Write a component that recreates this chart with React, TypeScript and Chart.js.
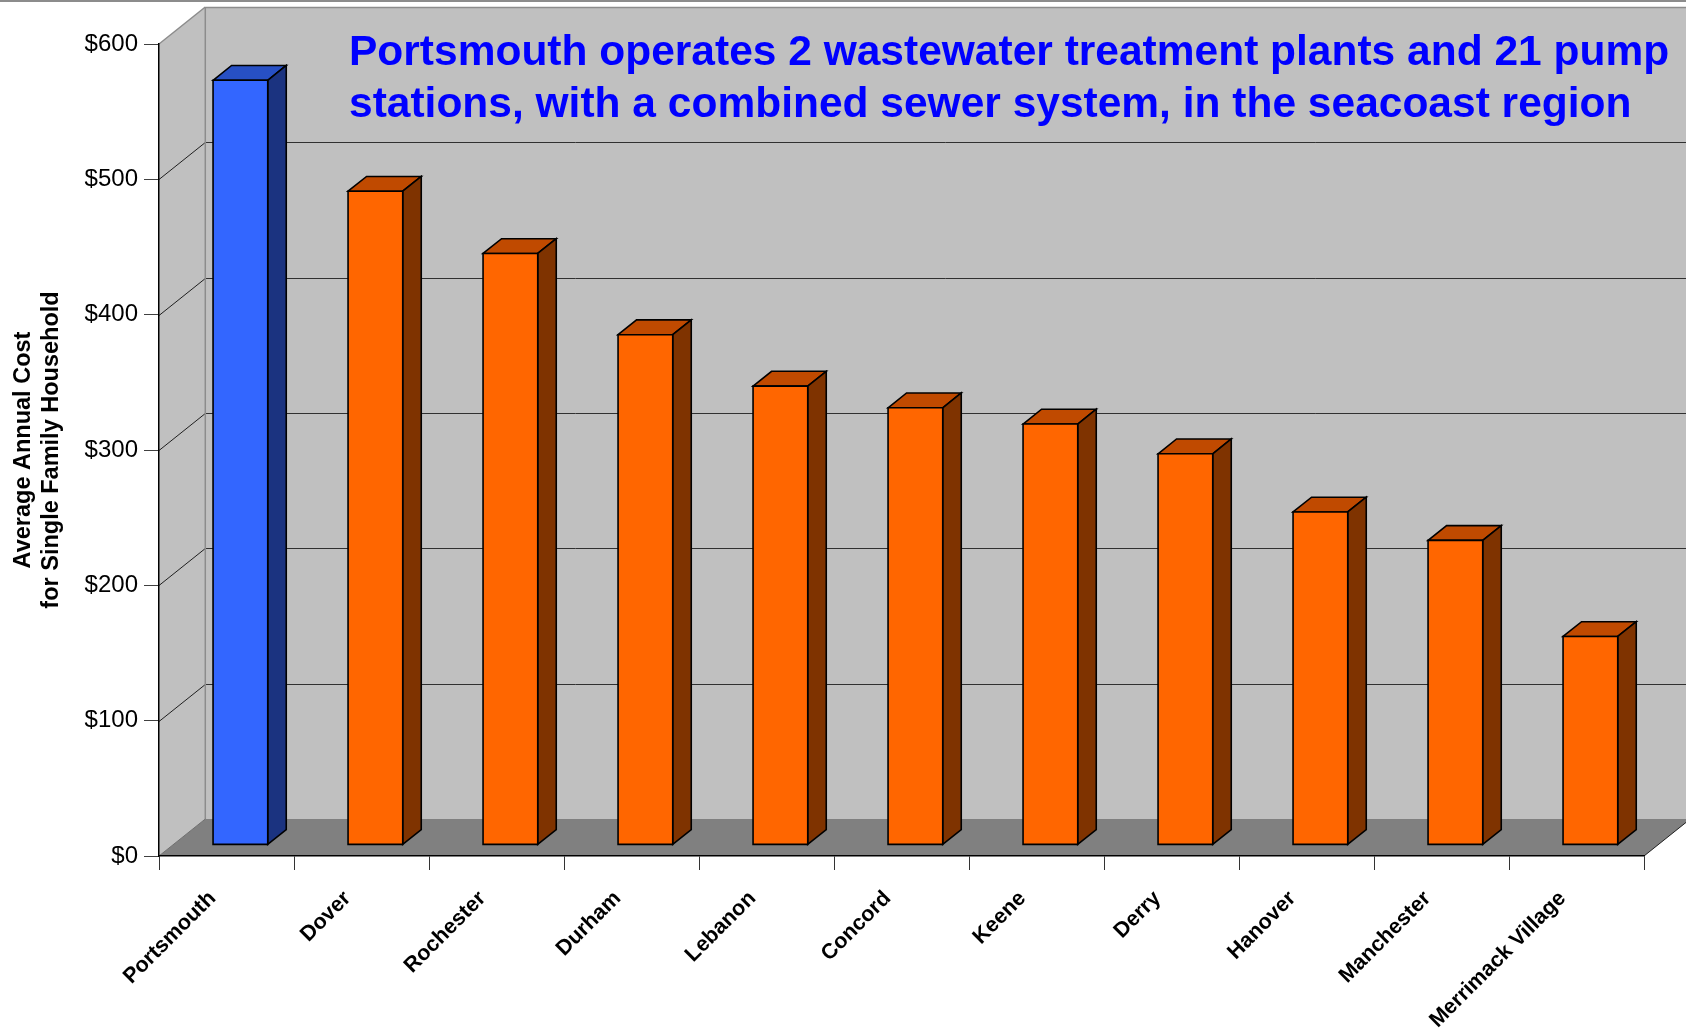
import React, { useEffect, useRef } from 'react';
import { Chart, registerables } from 'chart.js';

Chart.register(...registerables);

// ---- data ----
const categories = [
  'Portsmouth',
  'Dover',
  'Rochester',
  'Durham',
  'Lebanon',
  'Concord',
  'Keene',
  'Derry',
  'Hanover',
  'Manchester',
  'Merrimack Village',
];
const costs = [565, 483, 437, 377, 339, 323, 311, 289, 246, 225, 154];
const yTicks = [0, 100, 200, 300, 400, 500, 600];
const yTitleLines = ['Average Annual Cost', 'for Single Family Household'];
const noteLines = [
  'Portsmouth operates 2 wastewater treatment plants and 21 pump',
  'stations, with a combined sewer system, in the seacoast region',
];
const highlighted = 'Portsmouth';

// ---- styles ----
const FONT = "'Liberation Sans', Arial, Helvetica, sans-serif";
const DEPTH_X = 46.3; // full depth of the 3D box (px)
const DEPTH_Y = 37;
const GAP_FRAC = 0.3; // front gap before the bars
const BAR_FRAC = 0.4; // bar depth
const WALL = '#C0C0C0';
const FLOOR = '#808080';
const BLUE = { front: '#3366FF', top: '#2750C4', side: '#1B3380' };
const ORANGE = { front: '#FF6600', top: '#C04A00', side: '#7F3300' };

function poly(ctx: CanvasRenderingContext2D, pts: number[][], fill: string | null, stroke: string | null, lw = 1) {
  ctx.beginPath();
  ctx.moveTo(pts[0][0], pts[0][1]);
  for (let i = 1; i < pts.length; i++) ctx.lineTo(pts[i][0], pts[i][1]);
  ctx.closePath();
  if (fill) {
    ctx.fillStyle = fill;
    ctx.fill();
  }
  if (stroke) {
    ctx.strokeStyle = stroke;
    ctx.lineWidth = lw;
    ctx.lineJoin = 'miter';
    ctx.stroke();
  }
}

function line(ctx: CanvasRenderingContext2D, x1: number, y1: number, x2: number, y2: number, color: string, lw = 1) {
  ctx.beginPath();
  ctx.moveTo(x1, y1);
  ctx.lineTo(x2, y2);
  ctx.strokeStyle = color;
  ctx.lineWidth = lw;
  ctx.stroke();
}

const wallsPlugin = {
  id: 'walls3d',
  beforeDraw(chart: any) {
    const { ctx, chartArea: a } = chart;
    const y = chart.scales.y;
    const W = chart.width;
    const H = chart.height;
    ctx.save();
    ctx.fillStyle = '#FFFFFF';
    ctx.fillRect(0, 0, W, H);
    // thin frame line at the very top
    ctx.fillStyle = '#8C8C8C';
    ctx.fillRect(0, 0, W, 2);

    const top = y.getPixelForValue(yTicks[yTicks.length - 1]);
    const bot = y.getPixelForValue(yTicks[0]);
    const L = a.left;
    const R = a.right;
    const bl = L + DEPTH_X;

    // back wall
    ctx.fillStyle = WALL;
    ctx.fillRect(bl, top - DEPTH_Y, W - bl + 10, bot - top);
    // side wall
    poly(ctx, [[L, top], [bl, top - DEPTH_Y], [bl, bot - DEPTH_Y], [L, bot]], WALL, null);
    // floor
    poly(ctx, [[L, bot], [bl, bot - DEPTH_Y], [R + DEPTH_X, bot - DEPTH_Y], [R, bot]], FLOOR, null);

    // grid lines on back and side walls
    yTicks.forEach((v) => {
      if (v === yTicks[0] || v === yTicks[yTicks.length - 1]) return;
      const py = Math.round(y.getPixelForValue(v)) + 0.5;
      line(ctx, bl, py - DEPTH_Y, W, py - DEPTH_Y, '#303030', 1);
      line(ctx, L, py, bl, py - DEPTH_Y, '#202020', 1);
    });

    // wall edges
    line(ctx, bl, top - DEPTH_Y + 0.5, W, top - DEPTH_Y + 0.5, '#8C8C8C', 1.5);
    line(ctx, L, top, bl, top - DEPTH_Y, '#8C8C8C', 1.5);
    line(ctx, bl, top - DEPTH_Y, bl, bot - DEPTH_Y, '#8C8C8C', 1.5);
    line(ctx, L, bot, bl, bot - DEPTH_Y, '#6E6E6E', 1);
    line(ctx, R, bot, R + DEPTH_X, bot - DEPTH_Y, '#202020', 1);
    ctx.restore();
  },
  afterDatasetsDraw(chart: any) {
    const { ctx } = chart;
    const meta = chart.getDatasetMeta(0);
    const fx = DEPTH_X * GAP_FRAC;
    const fy = DEPTH_Y * GAP_FRAC;
    const bx = DEPTH_X * BAR_FRAC;
    const by = DEPTH_Y * BAR_FRAC;
    ctx.save();
    meta.data.forEach((bar: any, i: number) => {
      const { x, y, base, width } = bar.getProps(['x', 'y', 'base', 'width'], true);
      const col = categories[i] === highlighted ? BLUE : ORANGE;
      const l = x - width / 2 + fx;
      const r = x + width / 2 + fx;
      const t = y - fy;
      const b = base - fy;
      poly(ctx, [[l, t], [l + bx, t - by], [r + bx, t - by], [r, t]], col.top, '#000', 1.6);
      poly(ctx, [[r, t], [r + bx, t - by], [r + bx, b - by], [r, b]], col.side, '#000', 1.6);
      poly(ctx, [[l, t], [r, t], [r, b], [l, b]], col.front, '#000', 1.6);
    });
    ctx.restore();
  },
  afterDraw(chart: any) {
    const { ctx, chartArea: a } = chart;
    ctx.save();
    // value axis title (two centred lines, rotated)
    ctx.translate(24, (a.top + a.bottom) / 2);
    ctx.rotate(-Math.PI / 2);
    ctx.fillStyle = '#000';
    ctx.font = `bold 23.5px ${FONT}`;
    ctx.textAlign = 'center';
    ctx.textBaseline = 'middle';
    yTitleLines.forEach((t, i) => ctx.fillText(t, 0, i * 28));
    ctx.restore();

    // annotation in the plot
    ctx.save();
    ctx.fillStyle = '#0000FF';
    ctx.font = `bold 42.5px ${FONT}`;
    ctx.textAlign = 'left';
    ctx.textBaseline = 'alphabetic';
    noteLines.forEach((t, i) => ctx.fillText(t, 349, 65 + i * 52));
    ctx.restore();
  },
};

export default function App() {
  const ref = useRef<HTMLCanvasElement>(null);

  useEffect(() => {
    if (!ref.current) return;
    const chart = new Chart(ref.current, {
      type: 'bar',
      data: {
        labels: categories,
        datasets: [
          {
            label: 'Average Annual Cost',
            data: costs,
            backgroundColor: 'rgba(0,0,0,0)',
            borderWidth: 0,
            categoryPercentage: 1,
            barPercentage: 0.405,
          },
        ],
      },
      options: {
        responsive: false,
        animation: false,
        devicePixelRatio: 1,
        events: [],
        layout: { padding: { left: 0, right: 42, top: 44, bottom: 0 } },
        plugins: {
          legend: { display: false },
          tooltip: { enabled: false },
          title: { display: false },
        },
        scales: {
          x: {
            type: 'category',
            offset: true,
            grid: {
              display: true,
              offset: true,
              drawOnChartArea: false,
              drawTicks: true,
              tickLength: 14,
              color: '#333333',
              lineWidth: 1,
            },
            border: { display: true, color: '#000000', width: 1.5 },
            ticks: {
              autoSkip: false,
              minRotation: 45,
              maxRotation: 45,
              padding: 16,
              labelOffset: -14,
              color: '#000000',
              font: { family: FONT, size: 21.5, weight: 'bold' },
            },
            afterFit: (s: any) => {
              s.height = 173;
            },
          },
          y: {
            type: 'linear',
            min: yTicks[0],
            max: yTicks[yTicks.length - 1],
            afterBuildTicks: (s: any) => {
              s.ticks = yTicks.map((v) => ({ value: v }));
            },
            grid: {
              display: true,
              drawOnChartArea: false,
              drawTicks: true,
              tickLength: 15,
              color: '#404040',
              lineWidth: 1,
            },
            border: { display: true, color: '#000000', width: 1.5 },
            ticks: {
              padding: 6,
              color: '#000000',
              font: { family: FONT, size: 24 },
              callback: (v: any) => '$' + v,
            },
            afterFit: (s: any) => {
              s.width = 159;
            },
          },
        },
      },
      plugins: [wallsPlugin],
    });
    return () => chart.destroy();
  }, []);

  return (
    <div style={{ position: 'absolute', left: 0, top: 0, width: 1686, height: 1029, background: '#fff' }}>
      <canvas ref={ref} width={1686} height={1029} style={{ display: 'block' }} />
    </div>
  );
}
